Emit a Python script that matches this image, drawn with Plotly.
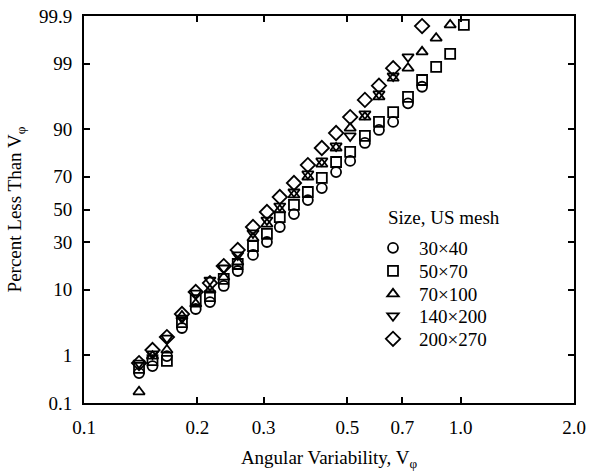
import plotly.graph_objects as go
from statistics import NormalDist

nd = NormalDist()

# Angular variability bins (shared by all series)
v_phi = [0.140, 0.152, 0.166, 0.182, 0.198, 0.216, 0.235, 0.256, 0.281, 0.306, 0.331, 0.361,
         0.393, 0.428, 0.467, 0.509, 0.557, 0.607, 0.662, 0.725, 0.790, 0.861, 0.938, 1.020]

# Cumulative percent less than V_phi, per mesh size
pct_30x40 = [0.45, 0.62, 0.96, 2.92, 5.6, 6.97, 11.1, 16.3, 23.4, 30.2, 39.0, 47.1,
             56.0, 63.4, 72.5, 78.1, 85.6, 89.8, 91.9, 95.5, 97.5, None, None, None]
pct_50x70 = [0.57, 0.81, 0.78, 3.6, 7.4, 8.35, 13.4, 19.2, 28.0, 34.8, 45.2, 52.9,
             61.0, 69.3, 77.6, 82.1, 88.0, 91.9, 94.0, 96.4, 98.07, 98.86, 99.35, 99.84]
pct_70x100 = [0.18, 0.96, 1.24, 4.45, 6.55, 9.9, 14.0, 20.1, 32.4, 40.8, 49.7, 59.2,
              69.8, 76.6, 83.7, 90.3, 93.0, 96.4, 98.2, 98.8, 99.41, 99.69, 99.84, None]
pct_140x200 = [0.71, 1.05, 2.0, 4.15, 9.1, 13.0, 17.5, 23.4, 35.4, 43.3, 52.2, 61.0,
               71.5, 78.1, 84.5, 88.0, 93.65, 96.75, 98.35, 99.26, None, None, None, None]
pct_200x270 = [0.71, 1.24, 2.08, 4.75, 9.4, 12.0, 18.3, 25.9, 39.0, 48.4, 57.9, 66.4,
               76.1, 83.7, 88.9, 93.0, 96.0, 97.6, 98.8, None, 99.83, None, None, None]

series_names = ["30×40", "50×70", "70×100", "140×200", "200×270"]
series_values = [pct_30x40, pct_50x70, pct_70x100, pct_140x200, pct_200x270]
symbols = ["circle-open", "square-open", "triangle-up-open", "triangle-down-open", "diamond-open"]
sizes = [10, 10, 10, 10, 11]

y_tick_pct = [0.1, 1, 10, 30, 50, 70, 90, 99, 99.9]
y_tick_text = ["0.1", "1", "10", "30", "50", "70", "90", "99", "99.9"]
x_tick_vals = [0.1, 0.2, 0.3, 0.5, 0.7, 1.0, 2.0]
x_tick_text = ["0.1", "0.2", "0.3", "0.5", "0.7", "1.0", "2.0"]


def probit(p):
    return None if p is None else nd.inv_cdf(p / 100.0)


FONT = "Liberation Serif, Times New Roman, serif"

# plot-area geometry (pixels)
L, R, T, B = 84, 574, 16, 403
W, H = R - L, B - T
legend_rows_px = [248, 271, 294, 316, 339]
legend_left_px = 367

fig = go.Figure()
legend_layout = {}
for i, (name, vals, sym, sz) in enumerate(zip(series_names, series_values, symbols, sizes)):
    key = "legend" if i == 0 else f"legend{i + 1}"
    fig.add_trace(go.Scatter(
        x=v_phi, y=[probit(p) for p in vals], mode="markers", name=name, legend=key,
        marker=dict(symbol=sym, size=sz, color="black", line=dict(color="black", width=1.8)),
    ))
    legend_layout[key] = dict(
        x=(legend_left_px - L) / W, y=(B - legend_rows_px[i]) / H,
        xanchor="left", yanchor="middle", bgcolor="rgba(0,0,0,0)",
        font=dict(family=FONT, size=19), itemwidth=42,
    )

zlim = probit(99.9)
fig.update_layout(
    width=592, height=471,
    margin=dict(l=L, r=592 - R, t=T, b=471 - B),
    paper_bgcolor="white", plot_bgcolor="white",
    font=dict(family=FONT, size=19, color="black"),
    showlegend=True,
    annotations=[dict(text="Size, US mesh", x=(386 - L) / W, y=(B - 217) / H,
                      xref="paper", yref="paper", xanchor="left", yanchor="middle",
                      showarrow=False, font=dict(family=FONT, size=19))],
    **legend_layout,
)
fig.update_xaxes(
    type="log", range=[-1, 0.30103], automargin=False,
    tickvals=x_tick_vals, ticktext=x_tick_text,
    ticks="inside", ticklen=6, tickwidth=1.5, tickcolor="black",
    showline=True, linewidth=2, linecolor="black", mirror="ticks",
    showgrid=False, zeroline=False,
    tickfont=dict(family=FONT, size=19), ticklabelstandoff=6,
    title=dict(text="Angular Variability, V<sub>φ</sub>", font=dict(family=FONT, size=19), standoff=42),
)
fig.update_yaxes(
    range=[-zlim, zlim], automargin=False,
    tickvals=[probit(p) for p in y_tick_pct], ticktext=y_tick_text,
    ticks="inside", ticklen=6, tickwidth=1.5, tickcolor="black",
    showline=True, linewidth=2, linecolor="black", mirror="ticks",
    showgrid=False, zeroline=False,
    tickfont=dict(family=FONT, size=19), ticklabelstandoff=6,
    title=dict(text="Percent Less Than V<sub>φ</sub>", font=dict(family=FONT, size=19), standoff=12),
)

fig.write_html("out.html")
